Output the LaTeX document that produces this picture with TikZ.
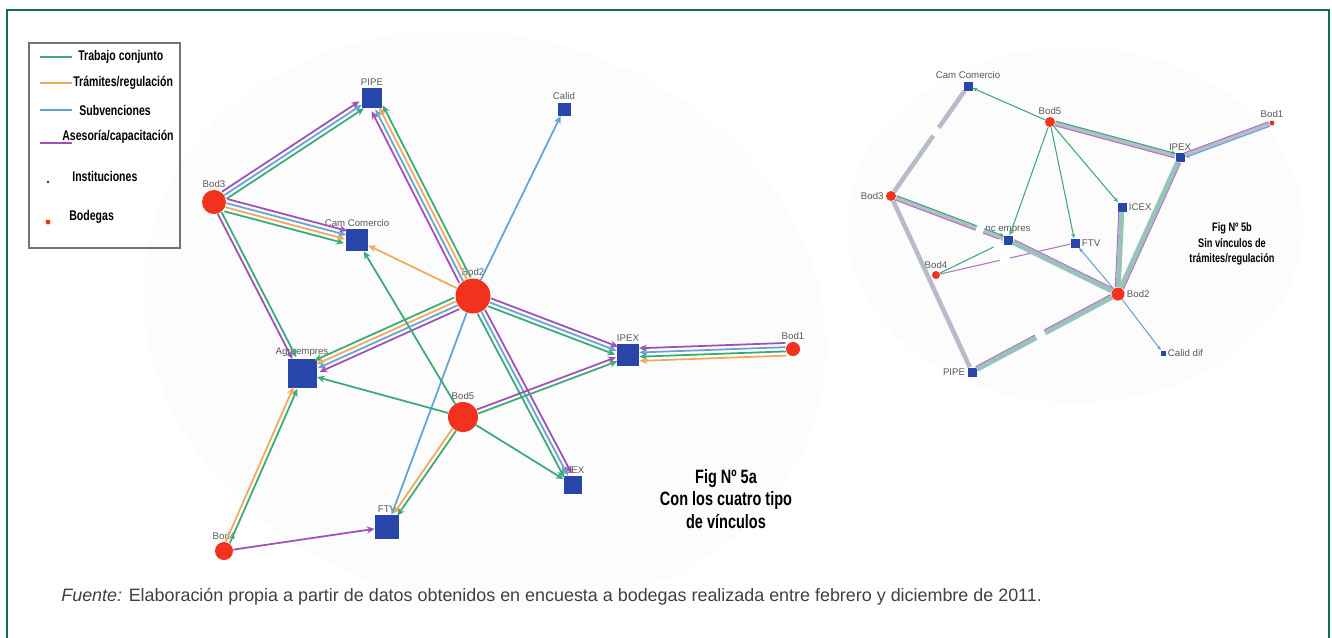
\documentclass[tikz,border=0pt]{standalone}
\usepackage{fontspec}
\setmainfont{Liberation Sans}
\newfontfamily\narrowfont[FakeStretch=0.75]{Liberation Sans}
\usetikzlibrary{arrows.meta,calc}

\definecolor{framec}{RGB}{20,110,70}
\definecolor{tjc}{RGB}{60,170,120}
\definecolor{trc}{RGB}{240,170,90}
\definecolor{svc}{RGB}{100,165,215}
\definecolor{acc}{RGB}{160,80,180}
\definecolor{instc}{RGB}{40,70,170}
\definecolor{bodc}{RGB}{240,50,30}
\definecolor{grayc}{RGB}{182,188,202}
\definecolor{greygc}{RGB}{150,196,186}

% parallel links between two nodes: list of style/offset
\newcommand\linkset[3]{%
  \foreach \cl/\sh in {#3}{%
    \draw[\cl, transform canvas={shift={($(#1)!\sh!90:(#2)-(#1)$)}}] (#1) -- (#2);}}

\begin{document}
\begin{tikzpicture}[x=0.02cm, y=-0.02cm,
  inst/.style={rectangle, fill=instc, inner sep=0pt},
  bod/.style={circle, fill=bodc, inner sep=0pt},
  lbl/.style={font=\fontsize{5.5}{6}\selectfont, text=black!65, inner sep=1pt},
  leg/.style={font=\narrowfont\bfseries\fontsize{8}{9}\selectfont, anchor=west, inner sep=0pt},
  ltj/.style={tjc, line width=1pt, -{Stealth[length=4.5pt,width=4pt]}},
  ltr/.style={trc, line width=1pt, -{Stealth[length=4.5pt,width=4pt]}},
  lsv/.style={svc, line width=1pt, -{Stealth[length=4.5pt,width=4pt]}},
  lac/.style={acc, line width=1pt, -{Stealth[length=4.5pt,width=4pt]}},
  rtj/.style={tjc, line width=0.6pt, -{Stealth[length=2.5pt,width=2.2pt]}},
  rsv/.style={svc, line width=0.6pt, -{Stealth[length=2.5pt,width=2.2pt]}},
  rac/.style={acc!80, line width=0.6pt},
  rgr/.style={grayc, line width=2.6pt},
  rgg/.style={greygc, line width=2.8pt},
  gap/.style={white, line width=5pt}
]
\useasboundingbox (0,0) rectangle (1332,637);
\clip (0,0) rectangle (1332,637);
\fill[white] (0,0) rectangle (1332,637);

% faint backgrounds
\fill[black!1.2, rotate around={-15:(485,320)}] (485,320) ellipse (345 and 285);
\fill[black!1.2] (1075,225) ellipse (228 and 178);

% legend
\draw[black!55, line width=0.8pt] (29,43) rectangle (180,248);
\draw[tjc, line width=1pt] (40,57) -- (72,57);
\draw[trc, line width=1pt] (40,83) -- (72,83);
\draw[svc, line width=1pt] (40,110) -- (72,110);
\draw[acc, line width=1pt] (40,143) -- (72,143);
\node[leg] (ltrab) at (78,57) {Trabajo conjunto};
\node[leg] (ltram) at (73,83) {Trámites/regulación};
\node[leg] (lsubv) at (79,110) {Subvenciones};
\node[leg] (lases) at (62,137) {Asesoría/capacitación};
\fill[instc!70!black] (48,182) circle (1.4);
\fill[bodc] (48,222) circle (2.5);
\node[leg] (linst) at (72,176) {Instituciones};
\node[leg] (lbod) at (69,217) {Bodegas};

% left graph, nodes
\node[inst, minimum size=0.40cm, label={[lbl]above:PIPE}] (pipe) at (372,98) {};
\node[inst, minimum size=0.26cm, label={[lbl]above:Calid}] (calid) at (564,109) {};
\node[inst, minimum size=0.44cm, label={[lbl]above:Cam Comercio}] (camc) at (357,240) {};
\node[inst, minimum size=0.44cm, label={[lbl]above:IPEX}] (ipex) at (628,355) {};
\node[inst, minimum size=0.58cm, label={[lbl]above:Agroempres}] (agro) at (302,373) {};
\node[inst, minimum size=0.36cm, label={[lbl]above:ICEX}] (icex) at (573,485) {};
\node[inst, minimum size=0.48cm, label={[lbl]above:FTV}] (ftv) at (387,527) {};
\node[bod, minimum size=0.48cm, label={[lbl]above:Bod3}] (b3) at (214,202) {};
\node[bod, minimum size=0.70cm, label={[lbl]above:Bod2}] (b2) at (473,296) {};
\node[bod, minimum size=0.28cm, label={[lbl]above:Bod1}] (b1) at (793,349) {};
\node[bod, minimum size=0.60cm, label={[lbl]above:Bod5}] (b5) at (463,417) {};
\node[bod, minimum size=0.36cm, label={[lbl]above:Bod4}] (b4) at (224,551) {};

% left graph, links
\linkset{b3}{pipe}{ltj/-2.4pt, lsv/0pt, lac/2.4pt}
\linkset{b3}{camc}{ltj/-3.6pt, ltr/-1.2pt, lsv/1.2pt, lac/3.6pt}
\linkset{b3}{agro}{lac/-1.2pt, ltj/1.2pt}
\linkset{b2}{pipe}{ltj/-3.6pt, ltr/-1.2pt, lsv/1.2pt, lac/3.6pt}
\linkset{b2}{calid}{lsv/0pt}
\linkset{b2}{camc}{ltr/0pt}
\linkset{b2}{ipex}{ltj/-2.4pt, lsv/0pt, lac/2.4pt}
\linkset{b2}{agro}{ltj/-3.6pt, ltr/-1.2pt, lsv/1.2pt, lac/3.6pt}
\linkset{b2}{icex}{ltj/-2.4pt, lsv/0pt, lac/2.4pt}
\linkset{b2}{ftv}{lsv/0pt}
\linkset{b5}{camc}{ltj/0pt}
\linkset{b5}{agro}{ltj/0pt}
\linkset{b5}{ipex}{ltj/-1.2pt, lac/1.2pt}
\linkset{b5}{icex}{ltj/0pt}
\linkset{b5}{ftv}{ltr/-1.2pt, ltj/1.2pt}
\linkset{b1}{ipex}{lac/-3.6pt, lsv/-1.2pt, ltj/1.2pt, ltr/3.6pt}
\linkset{b4}{agro}{ltj/-1.2pt, ltr/1.2pt}
\linkset{b4}{ftv}{lac/0pt}

\node[font=\narrowfont\bfseries\fontsize{11}{13}\selectfont, align=center] (figa) at (726,499)
  {Fig Nº 5a\\Con los cuatro tipo\\de vínculos};

% right graph, nodes
\node[inst, minimum size=0.18cm, label={[lbl]above:Cam Comercio}] (rcam) at (968,86) {};
\node[inst, minimum size=0.18cm, label={[lbl]above:IPEX}] (ripex) at (1180,157) {};
\node[inst, minimum size=0.18cm, label={[lbl]right:ICEX}] (ricex) at (1122,207) {};
\node[inst, minimum size=0.18cm, label={[lbl]above:nc empres}] (ragro) at (1008,240) {};
\node[inst, minimum size=0.18cm, label={[lbl]right:FTV}] (rftv) at (1075,243) {};
\node[inst, minimum size=0.10cm, label={[lbl]right:Calid dif}] (rcalid) at (1163,353) {};
\node[inst, minimum size=0.18cm, label={[lbl]left:PIPE}] (rpipe) at (972,372) {};
\node[bod, minimum size=0.20cm, label={[lbl]above:Bod5}] (rb5) at (1050,122) {};
\node[bod, minimum size=0.10cm, label={[lbl]above:Bod1}] (rb1) at (1272,123) {};
\node[bod, minimum size=0.20cm, label={[lbl]left:Bod3}] (rb3) at (891,196) {};
\node[bod, minimum size=0.16cm, label={[lbl]above:Bod4}] (rb4) at (936,275) {};
\node[bod, minimum size=0.26cm, label={[lbl]right:Bod2}] (rb2) at (1118,294) {};

% right graph, links
\linkset{rb5}{rcam}{rtj/0pt}
\linkset{rb5}{ripex}{rgr/0pt, rtj/1.3pt, rac/-1.3pt}
\linkset{rb5}{ragro}{rtj/0pt}
\linkset{rb5}{rftv}{rtj/0pt}
\linkset{rb5}{ricex}{rtj/0pt}
\linkset{rb1}{ripex}{rgr/0pt, rsv/1.3pt, rac/-1.3pt}
\linkset{rb3}{rcam}{rgr/0pt}
\linkset{rb3}{rpipe}{rgr/0pt}
\linkset{rb3}{ragro}{rgr/0pt, rtj/1.3pt, rac/-1.3pt}
\linkset{rb4}{ragro}{rtj/0pt}
\linkset{rb4}{rftv}{rac/0pt}
\linkset{rb2}{ragro}{rgg/0pt, rac/-1.7pt}
\linkset{rb2}{rftv}{rsv/0pt}
\linkset{rb2}{ricex}{rgg/0pt, rac/1.7pt}
\linkset{rb2}{ripex}{rgg/0pt, rac/-1.7pt}
\linkset{rb2}{rpipe}{rgg/0pt, rac/-1.7pt}
\linkset{rb2}{rcalid}{rsv/0pt}
% gaps left by hidden labels
\draw[gap] ($(rb3)!0.55!(rcam)$) -- ($(rb3)!0.62!(rcam)$);
\draw[gap] ($(rb3)!0.73!(ragro)$) -- ($(rb3)!0.79!(ragro)$);
\draw[gap] ($(rb4)!0.46!(rftv)$) -- ($(rb4)!0.53!(rftv)$);
\draw[gap] ($(rb4)!0.80!(ragro)$) -- ($(rb4)!0.92!(ragro)$);
\draw[gap] ($(rb2)!0.50!(rpipe)$) -- ($(rb2)!0.56!(rpipe)$);

\node[font=\narrowfont\bfseries\fontsize{7}{9}\selectfont, align=center] (figb) at (1232,244)
  {Fig Nº 5b\\Sin vínculos de\\trámites/regulación};

% frame and source
\draw[framec, line width=1pt] (7,10) rectangle (1329,700);
\node[anchor=west, font=\fontsize{10.2}{12}\selectfont, text=black!75, inner sep=0pt] (fuente) at (61,597)
  {\textit{Fuente:} Elaboración propia a partir de datos obtenidos en encuesta a bodegas realizada entre febrero y diciembre de 2011.};
\end{tikzpicture}
\end{document}
